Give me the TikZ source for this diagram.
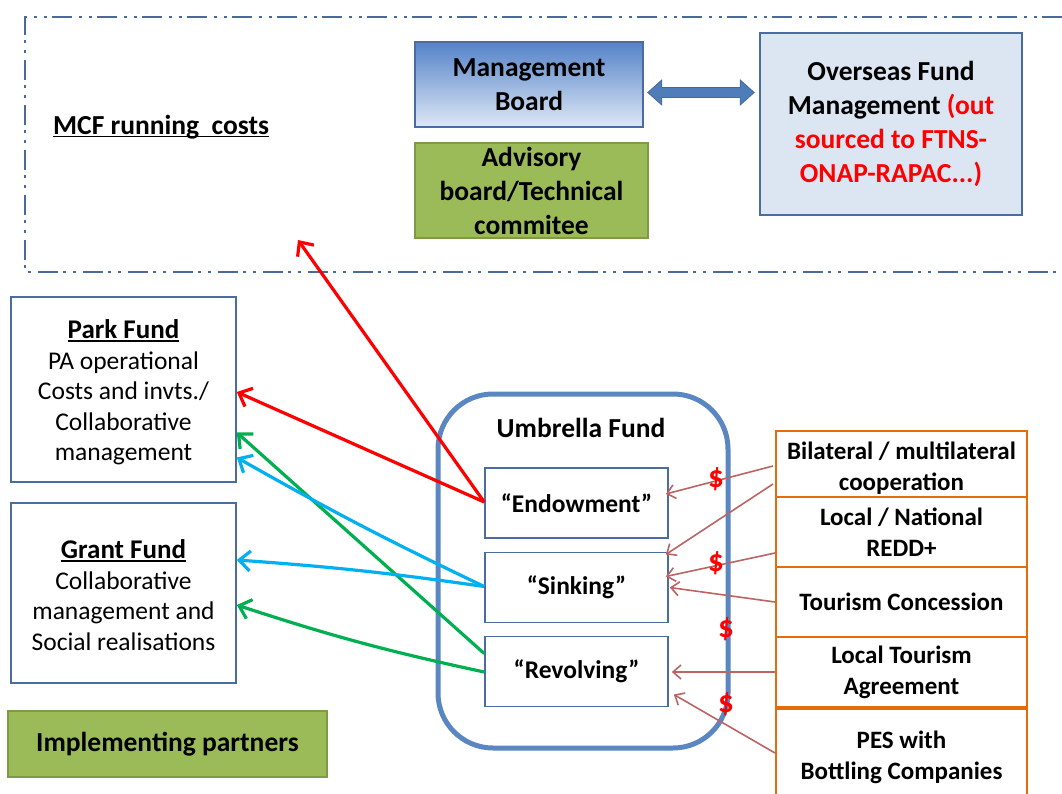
\documentclass[tikz,border=0pt]{standalone}
\usepackage{fontspec}
\setmainfont{Carlito}
\usetikzlibrary{arrows.meta,calc}
\newcommand{\myul}[1]{\setbox0\hbox{#1}\rlap{\rule[-3pt]{\wd0}{1.8pt}}\box0}
\definecolor{dashblue}{HTML}{4A6A9C}
\definecolor{boxblue}{HTML}{4A6C9F}
\definecolor{umbblue}{HTML}{5A86C2}
\definecolor{olive}{HTML}{9BBB59}
\definecolor{olivedark}{HTML}{7E9A45}
\definecolor{lightblue}{HTML}{DCE6F2}
\definecolor{orangeb}{HTML}{E46C0A}
\definecolor{brownarr}{HTML}{BC6464}
\definecolor{greenarr}{HTML}{00B050}
\definecolor{cyanarr}{HTML}{00B0F0}
\definecolor{blockblue}{HTML}{4F7DBA}
\tikzset{
  bfont/.style={font=\fontsize{27.5}{34}\selectfont\bfseries},
  rfont/.style={font=\fontsize{25.5}{30.5}\selectfont},
  obfont/.style={font=\fontsize{25}{31}\selectfont\bfseries},
  plainbox/.style={draw=boxblue,line width=1.6pt,fill=white,inner sep=0pt,align=center,rfont},
  innerbox/.style={draw=boxblue,line width=1.6pt,fill=white,inner sep=0pt,align=center,
    minimum width=183pt,minimum height=70pt,font=\fontsize{25.5}{30}\selectfont\bfseries},
  orbox/.style={draw=orangeb,line width=2pt,fill=white,inner sep=0pt,align=center,
    minimum width=251pt,obfont},
  thick arr/.style={line width=3.2pt,-{Straight Barb[length=11pt,width=20pt,line width=3.2pt]}},
  thin arr/.style={brownarr,line width=1.6pt,-{Straight Barb[length=8pt,width=14pt,line width=1.6pt]}},
  dollar/.style={text=red,font=\fontsize{31}{31}\selectfont\bfseries,inner sep=0pt}
}
\begin{document}
\begin{tikzpicture}[x=1pt,y=-1pt]
\useasboundingbox (0,0) rectangle (1062,794);
% dash-dot frame
\draw[dashblue,line width=2pt,dash pattern=on 20pt off 5pt on 3pt off 7pt on 3pt off 7pt]
  (1062,17) -- (25,17) -- (25,272) -- (1062,272);
\node[bfont,anchor=west,inner sep=0pt] (mcf) at (53,127) {\myul{MCF running\ \ costs}};
\node[draw=boxblue,line width=1.6pt,top color={rgb,255:red,84;green,130;blue,200},bottom color={rgb,255:red,222;green,232;blue,246},
  minimum width=228pt,minimum height=85pt,inner sep=0pt,align=center,bfont] (mgmt) at (529,84.5) {Management\\Board};
\node[draw=olivedark,line width=1.6pt,fill=olive,minimum width=233pt,minimum height=95pt,inner sep=0pt,align=center,bfont]
  (adv) at (531.5,190.5) {Advisory\\board/Technical\\commitee};
\node[draw=boxblue,line width=1.6pt,fill=lightblue,minimum width=262pt,minimum height=182pt,inner sep=0pt,align=center,bfont]
  (ovs) at (891,124) {Overseas Fund\\Management \textcolor{red}{(out}\\\textcolor{red}{sourced to FTNS-}\\\textcolor{red}{ONAP-RAPAC...)}};
% block double arrow
\coordinate (da1) at ($(mgmt.east)+(4,8)$);
\coordinate (da2) at ($(ovs.west |- da1)+(-5,0)$);
\fill[blockblue,draw={rgb,255:red,65;green,105;blue,160},line width=0.8pt]
  (da1) -- ++(14,-12.5) -- ++(0,7.5) -- ($(da2)+(-14,-5)$) -- ++(0,-7.5) -- (da2)
  -- ++(-14,12.5) -- ++(0,-7.5) -- ($(da1)+(14,5)$) -- ++(0,7.5) -- cycle;
% left boxes
\node[plainbox,minimum width=225pt,minimum height=185pt] (park) at (123.5,389.5) {};
\node[rfont,align=center,inner sep=0pt] (parkt) at ($(park.center)+(0,3)$)
  {{\bfseries\fontsize{27}{30.5}\selectfont\myul{Park Fund}}\\
   PA operational\\Costs and invts./\\Collaborative\\management};
\node[plainbox,minimum width=225pt,minimum height=180pt] (grant) at (123.5,593) {};
\node[rfont,align=center,inner sep=0pt] (grantt) at ($(grant.center)+(0,2)$)
  {{\bfseries\fontsize{27}{30.5}\selectfont\myul{Grant Fund}}\\
   Collaborative\\management and\\Social realisations};
\node[draw=olivedark,line width=1.6pt,fill=olive,minimum width=319pt,minimum height=66pt,inner sep=0pt,bfont]
  (impl) at (167.5,744) {Implementing partners};
% umbrella
\node[draw=umbblue,line width=5pt,rounded corners=55pt,minimum width=290pt,minimum height=354pt,inner sep=0pt]
  (umb) at (583,571) {};
\node[bfont,inner sep=0pt] (umbt) at (581,428) {Umbrella Fund};
\node[innerbox] (endow) at (576.5,503) {“Endowment”};
\node[innerbox] (sink) at (576.5,587.5) {“Sinking”};
\node[innerbox] (revol) at (576.5,671.5) {“Revolving”};
% orange boxes
\node[orbox,minimum height=66pt] (bil) at (901.5,464) {};
\node[obfont,align=center,inner sep=0pt] (bilt) at ($(bil.center)+(0,4)$) {Bilateral / multilateral\\cooperation};
\node[orbox,minimum height=70pt] (redd) at (901.5,532) {Local / National\\REDD+};
\node[orbox,minimum height=70pt] (tour) at (901.5,602) {Tourism Concession};
\node[orbox,minimum height=70pt] (lta) at (901.5,672) {Local Tourism\\Agreement};
\node[orbox,minimum height=92pt,text depth=0pt] (pes) at (901.5,755) {PES with\\Bottling Companies};
% thick arrows
\coordinate (mcfarr) at (298,240);
\draw[thick arr,red] ($(endow.west)+(0,-1)$) -- (mcfarr);
\draw[thick arr,red] ($(endow.west)+(0,-1)$) -- ($(park.east)+(0,2.5)$);
\draw[thick arr,greenarr] ($(revol.west)+(0,-18)$) -- ($(park.east)+(0,43)$);
\draw[thick arr,greenarr] ($(revol.west)+(0,0.5)$) to[bend left=3] ($(grant.east)+(0,12)$);
\draw[thick arr,cyanarr] ($(sink.west)+(0,-1)$) to[bend left=2] ($(park.east)+(0,68)$);
\draw[thick arr,cyanarr] ($(sink.west)+(0,-1)$) to[bend right=2] ($(grant.east)+(0,-33)$);
% thin arrows
\draw[thin arr] ($(bil.west)+(-2,2)$) -- ($(endow.east)+(-3,-9)$);
\draw[thin arr] ($(bil.west)+(-2,20)$) -- ($(sink.east)+(-3,-33)$);
\draw[thin arr] ($(redd.west)+(0,21)$) -- ($(sink.east)+(-3,-11)$);
\draw[thin arr] (tour.west) -- ($(sink.east)+(1,0)$);
\draw[thin arr] (lta.west) -- ($(revol.east)+(3,0.5)$);
\draw[thin arr] ($(pes.west)+(0,-2)$) -- ($(revol.east)+(5,23)$);
% dollar signs
\node[dollar] (d1) at (716,479) {\$};
\node[dollar] (d2) at (716,563) {\$};
\node[dollar] (d3) at (726,629) {\$};
\node[dollar] (d4) at (726,704) {\$};
\end{tikzpicture}
\end{document}
